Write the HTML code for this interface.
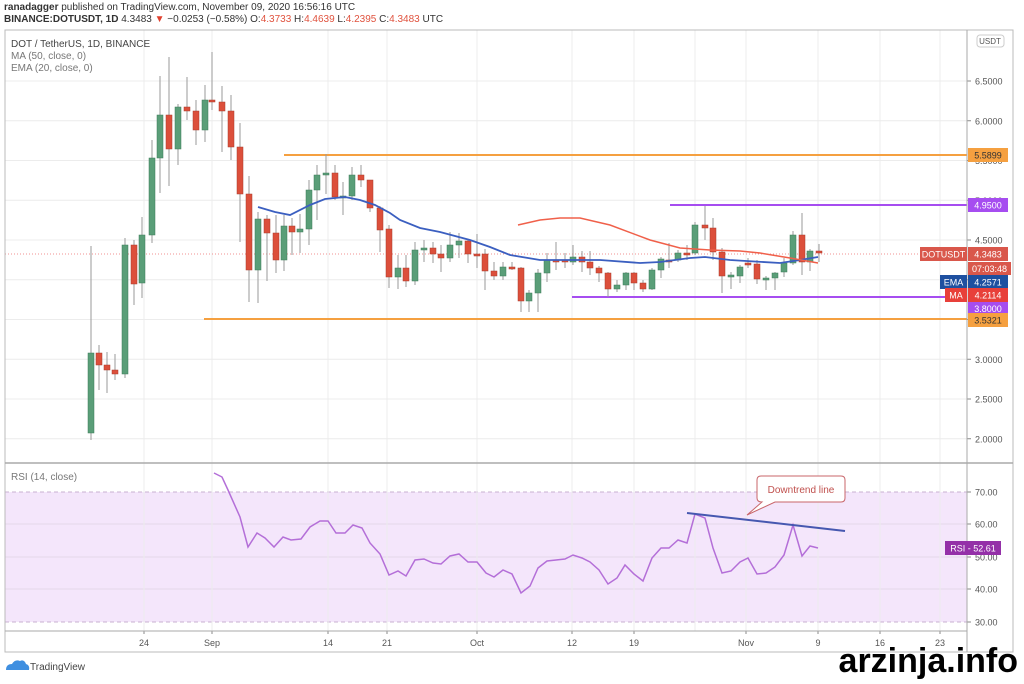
<!DOCTYPE html>
<html><head><meta charset="utf-8"><style>
body{margin:0;background:#fff;width:1024px;height:679px;overflow:hidden;font-family:"Liberation Sans",sans-serif}
</style></head><body>
<svg id="s" width="1024" height="679" xmlns="http://www.w3.org/2000/svg" font-family="Liberation Sans, sans-serif">
<rect width="1024" height="679" fill="#fff"/>
<text x="4" y="10" font-size="10" fill="#333"><tspan font-weight="bold">ranadagger</tspan> published on TradingView.com, November 09, 2020 16:56:16 UTC</text>
<text x="4" y="22" font-size="10" fill="#333"><tspan font-weight="bold">BINANCE:DOTUSDT, 1D</tspan> 4.3483 <tspan fill="#e0402e">▼</tspan> −0.0253 (−0.58%) O:<tspan fill="#e0533f">4.3733</tspan> H:<tspan fill="#e0533f">4.4639</tspan> L:<tspan fill="#e0533f">4.2395</tspan> C:<tspan fill="#e0533f">4.3483</tspan> UTC</text>
<g id="g"></g>
</svg>
<script>
const g=document.getElementById('g');let h='';
const L=5,R=967,T=30,B=652,SEP=463,RB=631;
// rsi band
h+=`<rect x="${L}" y="492" width="${R-L}" height="130" fill="#f4e6fb"/>`;
// horizontal grid main
for(let p=2;p<=6.5;p+=0.5){const y=81+(6.5-p)*79.5;h+=`<line x1="${L}" x2="${R}" y1="${y}" y2="${y}" stroke="#ececec"/>`;h+=`<line x1="${R}" x2="${R+4}" y1="${y}" y2="${y}" stroke="#888"/><text x="975" y="${y+3.5}" font-size="9" fill="#555">${p.toFixed(4)}</text>`;}
[524,557,589].forEach(y=>h+=`<line x1="${L}" x2="${R}" y1="${y}" y2="${y}" stroke="#e4d8ea"/>`);
[492,622].forEach(y=>h+=`<line x1="${L}" x2="${R}" y1="${y}" y2="${y}" stroke="#c9b0d2" stroke-dasharray="4,3"/>`);
[[70,492],[60,524],[50,557],[40,589],[30,622]].forEach(a=>h+=`<line x1="${R}" x2="${R+4}" y1="${a[1]}" y2="${a[1]}" stroke="#888"/><text x="975" y="${a[1]+3.5}" font-size="9" fill="#555">${a[0]}.00</text>`);
const vx=[[144,'24'],[212,'Sep'],[328,'14'],[387,'21'],[477,'Oct'],[572,'12'],[634,'19'],[695,''],[746,'Nov'],[818,'9'],[880,'16'],[940,'23']];
vx.forEach(a=>{h+=`<line x1="${a[0]}" x2="${a[0]}" y1="${T}" y2="${RB}" stroke="#ececec"/>`;if(a[1])h+=`<text x="${a[0]}" y="646" font-size="9" fill="#555" text-anchor="middle">${a[1]}</text><line x1="${a[0]}" x2="${a[0]}" y1="${RB}" y2="${RB+3}" stroke="#888"/>`;});
// level lines
h+=`<line x1="284" x2="${R}" y1="155" y2="155" stroke="#f5a040" stroke-width="2"/>`;
h+=`<line x1="204" x2="${R}" y1="319" y2="319" stroke="#f5a040" stroke-width="2"/>`;
h+=`<line x1="670" x2="${R}" y1="205" y2="205" stroke="#a64df0" stroke-width="2"/>`;
h+=`<line x1="572" x2="${R}" y1="297" y2="297" stroke="#a64df0" stroke-width="2"/>`;
h+=`<line x1="${L}" x2="${R}" y1="254" y2="254" stroke="#f09090" stroke-dasharray="1,2"/>`;
const C=[[91,433,353,246,440],[99,353,365,345,390],[107,365,370,352,393],[115,370,374,354,380],[125,374,245,238,378],[134,245,284,240,305],[142,283,235,217,298],[152,235,158,140,243],[160,158,115,76,193],[169,115,149,57,186],[178,149,107,104,165],[187,107,111,77,120],[196,111,130,100,145],[205,130,100,85,142],[212,100,102,52,110],[222,102,111,86,152],[231,111,147,95,160],[240,147,194,123,242],[249,194,270,176,302],[258,270,219,212,303],[267,219,233,215,281],[276,233,260,215,273],[284,260,226,215,271],[292,226,232,218,255],[300,232,229,214,253],[309,229,190,180,245],[317,190,175,165,220],[326,175,173,154,194],[335,173,197,165,200],[343,197,196,182,215],[352,196,175,167,200],[361,175,180,165,187],[370,180,208,180,212],[380,208,230,206,252],[389,229,277,225,288],[398,277,268,255,289],[406,268,281,255,287],[415,281,250,242,285],[424,250,248,240,262],[433,248,254,242,263],[441,254,258,245,272],[450,258,245,232,262],[459,245,241,233,258],[468,241,254,239,263],[477,254,255,234,268],[485,254,271,249,290],[494,271,276,262,280],[503,276,267,262,280],[512,267,268,262,270],[521,268,301,267,312],[529,301,293,290,312],[538,293,273,269,312],[547,273,260,253,282],[556,260,261,242,270],[565,260,262,253,268],[573,262,257,245,265],[582,257,262,251,272],[590,262,268,251,275],[599,268,273,266,282],[608,273,289,272,297],[617,289,285,280,292],[626,285,273,272,290],[634,273,283,272,290],[643,283,289,280,292],[652,289,270,268,290],[661,270,259,257,278],[669,260,261,243,268],[678,260,253,250,262],[687,253,254,245,260],[695,253,225,222,255],[705,225,228,206,240],[713,228,252,218,260],[722,252,276,248,293],[731,276,275,272,289],[740,276,267,265,283],[748,263,264,258,268],[757,264,279,260,284],[766,279,278,276,290],[775,278,273,272,290],[784,272,263,258,277],[793,263,235,231,265],[802,235,262,213,275],[810,262,251,249,271],[819,251,253,244,262]];
C.forEach(c=>{const[x,o,cl,hi,lo]=c;const up=cl<=o;const col=up?'#5a9e78':'#dc4f3b';h+=`<line x1="${x}" x2="${x}" y1="${hi}" y2="${lo}" stroke="#9a9a9a"/>`;const t=Math.min(o,cl),bh=Math.max(2,Math.abs(o-cl));h+=`<rect x="${x-3}" y="${t}" width="6" height="${bh}" fill="${col}" stroke="${up?'#3d7a58':'#a83a2c'}" stroke-width="0.5"/>`;});
const ema=[[258,207],[275,212],[290,215],[310,205],[325,199],[345,197],[360,200],[375,205],[390,213],[400,220],[420,228],[440,232],[470,240],[490,247],[510,255],[540,260],[600,260],[640,263],[660,262],[690,258],[705,257],[730,260],[780,263],[800,260],[818,257]];
const ma=[[518,225],[540,220],[560,218],[580,218],[610,225],[650,240],[680,248],[710,250],[740,251],[760,253],[790,258],[818,263]];
const pl=a=>a.map(p=>p.join(',')).join(' ');
h+=`<polyline points="${pl(ema)}" fill="none" stroke="#3b5fc0" stroke-width="1.8"/>`;
h+=`<polyline points="${pl(ma)}" fill="none" stroke="#f0604a" stroke-width="1.5"/>`;
const rsi=[[214,473],[222,477],[228,490],[240,517],[248,547],[257,533],[265,538],[274,547],[283,537],[291,540],[301,539],[310,527],[320,521],[328,521],[336,533],[345,533],[353,525],[362,528],[370,543],[380,554],[389,575],[398,571],[406,576],[415,560],[424,559],[433,563],[441,564],[450,556],[459,554],[468,562],[477,562],[486,573],[494,577],[503,570],[512,574],[521,593],[530,586],[538,568],[547,561],[556,560],[565,559],[573,555],[582,558],[590,562],[599,570],[608,584],[617,578],[625,565],[634,574],[643,581],[652,558],[661,548],[669,548],[678,540],[687,543],[695,514],[705,518],[713,548],[722,573],[731,571],[740,562],[748,558],[757,574],[766,573],[775,567],[784,555],[793,525],[802,556],[810,546],[818,548]];
h+=`<polyline points="${pl(rsi)}" fill="none" stroke="#b46fd8" stroke-width="1.5"/>`;
h+=`<line x1="687" y1="513" x2="845" y2="531" stroke="#4658b0" stroke-width="2"/>`;
h+=`<path d="M761,476 H841 Q845,476 845,480 V498 Q845,502 841,502 H775 L747,515 L762,502 Q757,502 757,498 V480 Q757,476 761,476Z" fill="#fff" stroke="#c8656a"/><text x="801" y="493" font-size="10" fill="#c0504d" text-anchor="middle">Downtrend line</text>`;
// frame
h+=`<rect x="${L}" y="${T}" width="${1013-L}" height="${B-T}" fill="none" stroke="#bbb"/>`;
h+=`<line x1="${L}" x2="1013" y1="${SEP}" y2="${SEP}" stroke="#aaa" stroke-width="1.5"/>`;
h+=`<line x1="${L}" x2="${R}" y1="${RB}" y2="${RB}" stroke="#aaa"/>`;
h+=`<line x1="${R}" x2="${R}" y1="${T}" y2="${B}" stroke="#aaa"/>`;
h+=`<text x="11" y="47" font-size="10" fill="#444">DOT / TetherUS, 1D, BINANCE</text><text x="11" y="59" font-size="10" fill="#777">MA (50, close, 0)</text><text x="11" y="71" font-size="10" fill="#777">EMA (20, close, 0)</text><text x="11" y="480" font-size="10" fill="#777">RSI (14, close)</text>`;
h+=`<rect x="977" y="35" width="27" height="12" rx="3" fill="#fff" stroke="#ccc"/><text x="990" y="44" font-size="8" fill="#555" text-anchor="middle">USDT</text>`;
const box=(x,y,w,hh,c,t,tc)=>`<rect x="${x}" y="${y}" width="${w}" height="${hh}" fill="${c}"/><text x="${x+w/2}" y="${y+hh/2+3.5}" font-size="9" fill="${tc||'#fff'}" text-anchor="middle">${t}</text>`;
h+=box(968,148,40,14,'#f5a040','5.5899','#333');
h+=box(968,198,40,14,'#a64df0','4.9500');
h+=box(920,247,47,14,'#d9574b','DOTUSDT')+box(968,247,40,14,'#d9574b','4.3483');
h+=box(968,262,43,13,'#d9574b','07:03:48');
h+=box(940,275,27,14,'#1e50a0','EMA')+box(968,275,40,14,'#1e50a0','4.2571');
h+=box(945,288,22,14,'#e8403a','MA')+box(968,288,40,14,'#e8403a','4.2114');
h+=box(968,302,40,13,'#a64df0','3.8000');
h+=box(968,313,40,14,'#f5a040','3.5321','#333');
h+=box(945,541,56,14,'#9430a8','RSI - 52.61');
h+=`<path d="M6,670 q0,-6 6,-6 q3,-5 8,-3 q4,-2 6,3 q4,1 3,6 z" fill="#3f8fe0"/><text x="30" y="670" font-size="10" fill="#444">TradingView</text>`;
h+=`<text x="1018" y="672" font-size="34" font-weight="bold" fill="#000" text-anchor="end">arzinja.info</text>`;
g.innerHTML=h;
</script>
</body></html>
